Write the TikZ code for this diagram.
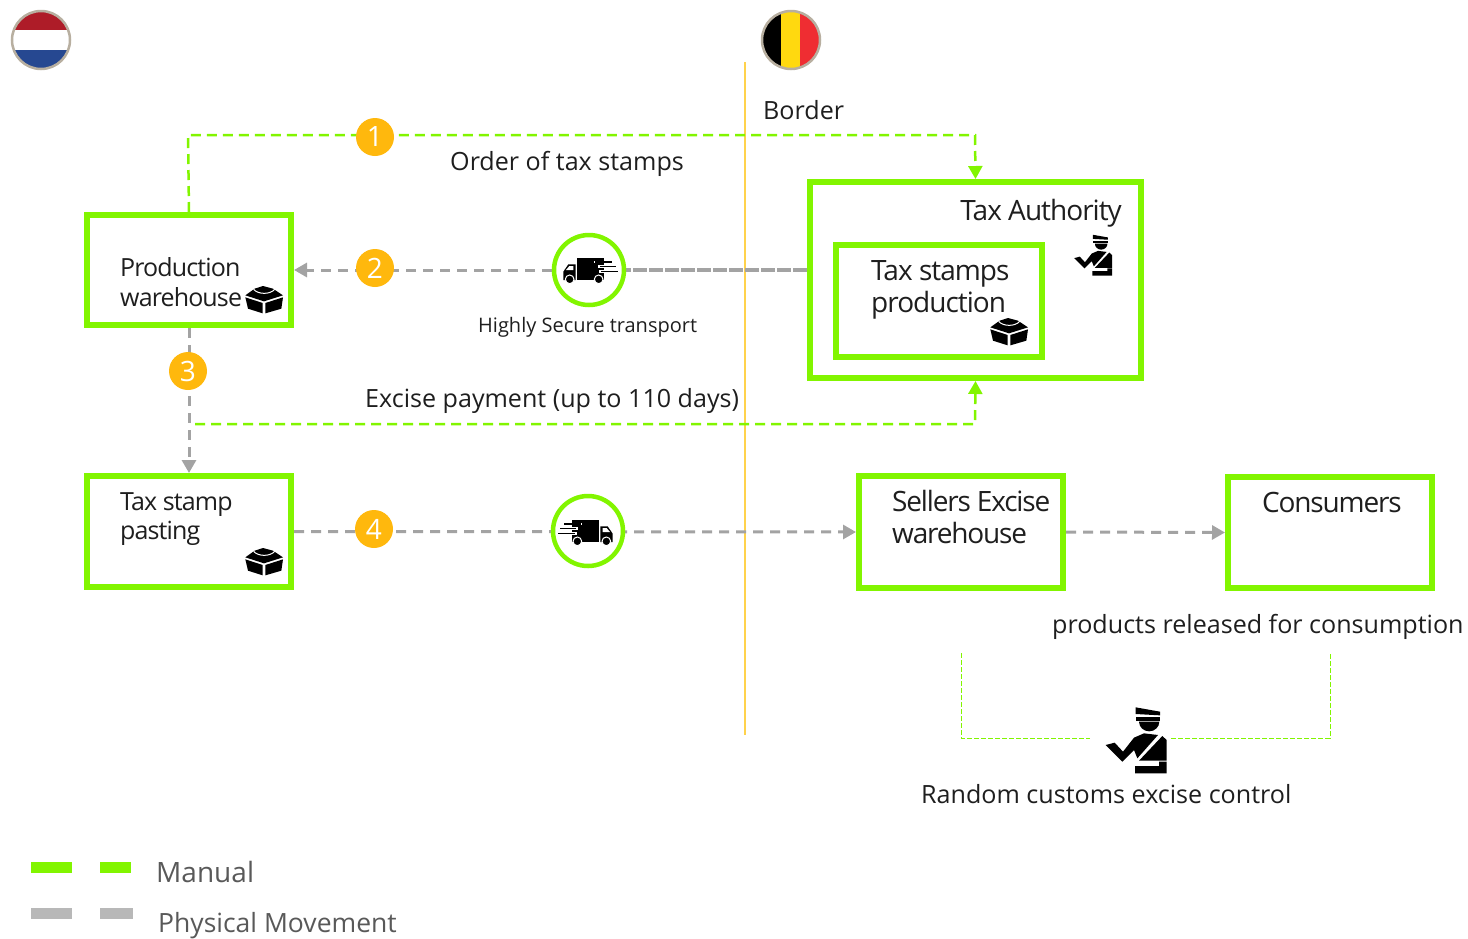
\documentclass[tikz,border=0pt]{standalone}
\usepackage{fontspec}
\setmainfont{Open Sans}
\newfontfamily\tightsans[LetterSpace=-3.5]{Open Sans}
\newfontfamily\tightersans[LetterSpace=-4.2]{Open Sans}
\usetikzlibrary{arrows.meta,backgrounds}
\definecolor{lime}{HTML}{82F500}
\definecolor{move}{HTML}{A3A3A3}
\definecolor{ink}{HTML}{1E1E1E}
\definecolor{amber}{HTML}{FFB80D}
\definecolor{rim}{HTML}{B8AFA0}
\tikzset{
  stage/.style={draw=lime,line width=6pt,fill=none,minimum width=#1,inner sep=0pt},
  lbl/.style={text=ink,inner sep=0pt,align=left,anchor=west,font=\fontsize{25.1}{30}\selectfont},
  small/.style={lbl,font=\fontsize{20}{24}\selectfont},
  tightbig/.style={lbl,font=\tightsans\fontsize{28}{32}\selectfont},
  tighterbig/.style={lbl,font=\tightersans\fontsize{28}{32}\selectfont},
  tightmid/.style={lbl,font=\tightsans\fontsize{25}{29.5}\selectfont},
  badge/.style={circle,fill=amber,text=white,minimum size=38pt,inner sep=0pt,font=\fontsize{28}{30}\selectfont},
  ring/.style={circle,draw=lime,line width=4.5pt,fill=white,minimum size=70pt,inner sep=0pt},
  manual/.style={draw=lime,line width=2.5pt,dash pattern=on 10pt off 6pt},
  physical/.style={draw=move,line width=3pt,dash pattern=on 10pt off 7pt},
  tip/.style={-{Triangle[length=13pt,width=14pt]}},
  boxicon/.pic={
    \begin{scope}[scale=1/3,shift={(-103,-92)}]
      \fill[black] (47,78) -- (75,58) -- (100,50) -- (130,58) -- (160,78) -- (103,96) -- cycle;
      \fill[black] (47,84) -- (99,101) -- (99,132) -- (55,118) -- cycle;
      \fill[black] (107,101) -- (160,84) -- (155,118) -- (107,132) -- cycle;
      \draw[white,line width=1pt] (72,60) .. controls (85,76) and (122,76) .. (135,60);
    \end{scope}
  },
  guardicon/.pic={
    \begin{scope}[scale=1/3,shift={(-166,-150)}]
      \fill[black] (165,52) -- (238,65) -- (238,76) -- (165,72) -- cycle;
      \fill[black] (165,80) -- (238,80) -- (238,92) -- (165,92) -- cycle;
      \fill[black] (175,95) -- (236,95) arc (0:180:30.5 and 29) -- cycle;
      \fill[black] (75,165) -- (102,158) -- (127,185) -- (160,143) -- (190,130)
        -- (232,135) -- (170,205) -- (160,180) -- (125,215) -- cycle;
      \fill[black] (245,138) -- (258,150) -- (258,212) -- (175,212) -- cycle;
      \fill[black] (163,228) -- (235,228) -- (235,215) -- (258,215) -- (258,250) -- (163,250) -- cycle;
    \end{scope}
  },
  truckicon/.pic={
    \begin{scope}[scale=1/3,shift={(-180,-150)}]
      \fill[black] (141,115) rectangle (222,180);
      \fill[black] (100,180) -- (100,155) -- (115,133) -- (137,133) -- (137,180) -- cycle;
      \fill[white] (108,150) -- (118,138) -- (130,138) -- (130,150) -- cycle;
      \fill[white] (192,122) rectangle (222,130);
      \fill[white] (205,135) rectangle (222,145);
      \fill[white] (208,150) rectangle (222,160);
      \fill[black] (195,124) rectangle (245,128);
      \fill[black] (210,138) rectangle (258,142);
      \fill[black] (212,153) rectangle (265,157);
      \filldraw[black,draw=white,line width=1pt] (119,178) circle (13);
      \filldraw[black,draw=white,line width=1pt] (206,178) circle (13);
    \end{scope}
  }
}
\begin{document}
\begin{tikzpicture}[x=1pt,y=-1pt]
  \useasboundingbox (0,0) rectangle (1468,938);
  \begin{scope}
    \clip (41,40) circle (29);
    \fill[fill={rgb,255:red,174;green,28;blue,40}] (10,10) rectangle (72,30);
    \fill[white] (10,30) rectangle (72,50);
    \fill[fill={rgb,255:red,38;green,72;blue,145}] (10,50) rectangle (72,70);
  \end{scope}
  \draw[rim,line width=2.5pt] (41,40) circle (29);
  \begin{scope}
    \clip (791,40) circle (29);
    \fill[black] (760,10) rectangle (781,70);
    \fill[fill={rgb,255:red,255;green,217;blue,15}] (781,10) rectangle (800,70);
    \fill[fill={rgb,255:red,239;green,45;blue,50}] (800,10) rectangle (822,70);
  \end{scope}
  \draw[rim,line width=2.5pt] (791,40) circle (29);
  \draw
    (189,270) node[stage=204pt,minimum height=110pt] (prod){}
    (975.5,280) node[stage=331pt,minimum height=196pt] (auth){}
    (939,301) node[stage=206pt,minimum height=112pt] (print){}
    (189,531.5) node[stage=204pt,minimum height=111pt] (paste){}
    (961,532) node[stage=204pt,minimum height=112pt] (sell){}
    (1330,532.5) node[stage=204pt,minimum height=111pt] (cons){}
    (589,270) node[ring] (van1){}
    (588,531) node[ring] (van2){}
    (375,137) node[badge] (b1){1}
    (375,268) node[badge] (b2){2}
    (188,371) node[badge] (b3){3}
    (374,529) node[badge] (b4){4};
  \coordinate (order1) at (188,135);
  \coordinate (order2) at (975,135);
  \coordinate (pay1) at (195,424);
  \coordinate (pay2) at (975,424);
  \coordinate (bord1) at (745,62);
  \coordinate (bord2) at (745,735);
  \coordinate (ctrl1) at (961,653);
  \coordinate (ctrl2) at (961,738);
  \coordinate (ctrl3) at (1090,738);
  \coordinate (ctrl4) at (1330,654);
  \coordinate (ctrl5) at (1330,738);
  \coordinate (ctrl6) at (1170,738);
  \begin{scope}[on background layer]
    \draw[orange!50!yellow!70,line width=1.5pt] (bord1) -- (bord2);
    \draw[manual,tip] (prod.north) -- (order1) -- (order2) -- (auth.north);
    \draw[manual,tip] (pay1) -- (pay2) -- (auth.south);
    \draw[physical,tip] (van1) -- (prod.east);
    \draw[physical,line width=3.5pt,dash pattern=on 14pt off 2pt] (auth.west |- van1) -- (van1);
    \draw[physical,tip] (prod.south) -- (paste.north);
    \draw[physical,tip] (paste.east) -- (sell.west);
    \draw[physical,tip] (sell.east) -- (cons.west);
    \draw[lime,line width=1pt,dash pattern=on 5pt off 2pt] (ctrl1) -- (ctrl2) -- (ctrl3);
    \draw[lime,line width=1pt,dash pattern=on 5pt off 2pt] (ctrl4) -- (ctrl5) -- (ctrl6);
  \end{scope}
  \pic at (264,300) {boxicon};
  \pic at (1009,332) {boxicon};
  \pic at (264,562) {boxicon};
  \pic[scale=0.62] at (1093,255) {guardicon};
  \pic at (1136,740) {guardicon};
  \pic at (590,270) {truckicon};
  \pic[xscale=-1] at (586,532) {truckicon};
  \node[lbl] (t1) at (763,110) {Border};
  \node[lbl] (t2) at (450,164) {Order of tax stamps};
  \node[tightbig,anchor=east] (t3) at (1122,213) {Tax Authority};
  \node[tightmid] (t4) at (120,282) {Production\\warehouse};
  \node[tightbig] (t5) at (871,290) {Tax stamps\\production};
  \node[small] (t6) at (478,327) {Highly Secure transport};
  \node[lbl] (t7) at (365,401) {Excise payment (up to 110 days)};
  \node[tightmid] (t8) at (120,519) {Tax stamp\\pasting};
  \node[tighterbig] (t9) at (892,517) {Sellers Excise\\warehouse};
  \node[tighterbig] (t10) at (1262,502) {Consumers};
  \node[lbl] (t11) at (1052,627) {products released for consumption};
  \node[lbl] (t12) at (921,794) {Random customs excise control};
  \node[lbl,text=black!65,font=\fontsize{28}{32}\selectfont] (t13) at (156,872) {Manual};
  \node[lbl,text=black!65,font=\fontsize{26.5}{32}\selectfont] (t14) at (158,926) {Physical Movement};
  \coordinate (key1) at (31,867);
  \coordinate (key2) at (131,867);
  \coordinate (key3) at (31,913);
  \coordinate (key4) at (133,913);
  \draw[lime,line width=11pt,dash pattern=on 41pt off 28pt] (key1) -- (key2);
  \draw[black!28,line width=11pt,dash pattern=on 41pt off 28pt] (key3) -- (key4);
\end{tikzpicture}
\end{document}
